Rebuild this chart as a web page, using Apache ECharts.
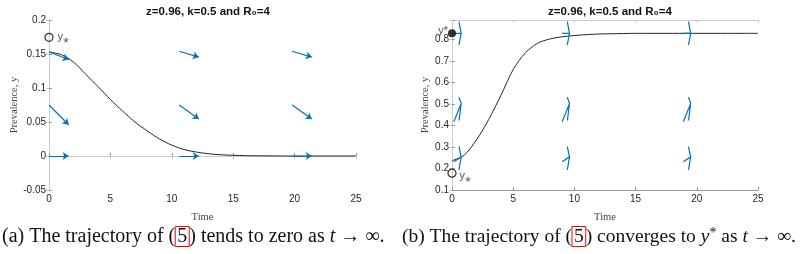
<!DOCTYPE html>
<html>
<head>
<meta charset="utf-8">
<script src="https://cdn.jsdelivr.net/npm/echarts@6/dist/echarts.min.js"></script>
<style>
  html, body { margin: 0; padding: 0; background: #fff; }
  #chart { width: 800px; height: 254px; }
</style>
</head>
<body>
<div id="chart"></div>
<script>
// time samples of both trajectories
const time = [0, 1, 2, 3, 4, 5, 6, 7, 8, 9, 10, 11, 12, 13, 14, 15, 16, 17, 18, 19, 20, 21, 22, 23, 24, 25];
// (a) prevalence dies out
const leftY = [0.153, 0.149, 0.138, 0.120, 0.102, 0.083, 0.066, 0.050, 0.037, 0.025, 0.016, 0.0095, 0.0058, 0.0033, 0.0018, 0.001, 0.0005, 0.0003, 0.0001, 0, 0, 0, 0, 0, 0, 0];
// (b) prevalence goes to y*
const rightY = [0.236, 0.262, 0.333, 0.428, 0.54, 0.66, 0.738, 0.782, 0.802, 0.812, 0.818, 0.822, 0.825, 0.826, 0.827, 0.828, 0.828, 0.828, 0.828, 0.828, 0.828, 0.828, 0.828, 0.828, 0.828, 0.828];

// quiver arrows: [t, y, dt, dy]
const leftArrows = [
  [0, 0.153, 1.6, -0.011], [10.6, 0.154, 1.6, -0.0085], [19.8, 0.154, 1.6, -0.0085],
  [0, 0.075, 1.6, -0.029], [10.6, 0.075, 1.6, -0.0206], [19.8, 0.075, 1.6, -0.0206],
  [0, 0, 1.6, 0], [10.6, 0, 1.6, 0], [19.8, 0, 1.6, 0]
];
const rightArrows = [
  [0.15, 0.828, 0.6, 0], [9.0, 0.828, 0.6, 0], [18.9, 0.828, 0.6, 0],
  [0.15, 0.417, 0.6, 0.0855], [9.0, 0.417, 0.6, 0.0855], [18.9, 0.417, 0.6, 0.0855],
  [0.15, 0.231, 0.6, 0.023], [9.0, 0.231, 0.6, 0.023], [18.9, 0.231, 0.6, 0.023]
];

// marked points
const leftYLow = 0.1745;
const rightYLow = 0.178;
const rightYStar = 0.828;

const xTicks = [0, 5, 10, 15, 20, 25];
const leftYTicks = [-0.05, 0, 0.05, 0.1, 0.15, 0.2];
const rightYTicks = [0.1, 0.2, 0.3, 0.4, 0.5, 0.6, 0.7, 0.8];

const blue = '#0072BD';
const ink = '#262626';
const sans = 'Liberation Sans';
const serif = 'Liberation Serif';

// matlab style arrow head, in data units
function quiverHead(a) {
  const [x, y, u, v] = a;
  const al = 0.3, be = 0.3;
  const tx = x + u, ty = y + v;
  return [
    [x, y], [tx, ty],
    [tx - al * (u + be * v), ty - al * (v - be * u)],
    [tx, ty],
    [tx - al * (u - be * v), ty - al * (v + be * u)]
  ];
}

const chart = echarts.init(document.getElementById('chart'), null, { renderer: 'canvas' });

const grids = [
  { left: 49, top: 20, width: 307, height: 170 },
  { left: 452, top: 20, width: 306, height: 170 }
];

function xAxes(gi) {
  const base = {
    gridIndex: gi, type: 'value', min: xTicks[0], max: xTicks[xTicks.length - 1], interval: 5,
    splitLine: { show: false }
  };
  return [
    Object.assign({}, base, {
      position: 'bottom',
      name: 'Time', nameLocation: 'middle', nameGap: 22,
      nameTextStyle: { fontFamily: serif, fontSize: 10.5, color: '#444' },
      axisLine: { lineStyle: { color: '#999', width: 1 } },
      axisTick: { inside: true, length: 3, lineStyle: { color: '#999' } },
      axisLabel: { fontFamily: sans, fontSize: 10, color: ink, margin: 4 }
    }),
    Object.assign({}, base, {
      position: 'top',
      axisLine: { lineStyle: { color: '#ccc', width: 1 } },
      axisTick: { inside: true, length: 3, lineStyle: { color: '#ccc' } },
      axisLabel: { show: false }
    })
  ];
}

function yAxes(gi, ticks, max, interval, fmt, gap) {
  const base = {
    gridIndex: gi, type: 'value', min: ticks[0], max: max, interval: interval,
    splitLine: { show: false }
  };
  return [
    Object.assign({}, base, {
      position: 'left',
      name: 'Prevalence, y', nameLocation: 'middle', nameGap: gap,
      nameTextStyle: { fontFamily: serif, fontSize: 10.5, color: '#444' },
      axisLine: { lineStyle: { color: '#999', width: 1 } },
      axisTick: { inside: true, length: 3, lineStyle: { color: '#999' } },
      axisLabel: { fontFamily: sans, fontSize: 10, color: ink, margin: 3, formatter: fmt }
    }),
    Object.assign({}, base, {
      position: 'right',
      axisLine: { lineStyle: { color: '#ccc', width: 1 } },
      axisTick: { inside: true, length: 3, lineStyle: { color: '#ccc' } },
      axisLabel: { show: false }
    })
  ];
}

const fmtLeft = v => (Math.abs(v) < 1e-9 ? '0' : String(+v.toFixed(2)));
const fmtRight = v => (Math.abs(v * 10 - Math.round(v * 10)) > 1e-6 ? '' : String(+v.toFixed(1)));

const titleStyle = { fontFamily: sans, fontSize: 11.5, fontWeight: 'bold', color: '#111' };

const option = {
  animation: false,
  backgroundColor: '#fff',
  title: [
    { text: 'z=0.96, k=0.5 and R\u2080=4', left: 203, top: 1, textAlign: 'center', textStyle: titleStyle },
    { text: 'z=0.96, k=0.5 and R\u2080=4', left: 605, top: 1, textAlign: 'center', textStyle: titleStyle }
  ],
  grid: grids,
  xAxis: xAxes(0).concat(xAxes(1)),
  yAxis: yAxes(0, leftYTicks, 0.2, 0.05, fmtLeft, 26).concat(yAxes(1, rightYTicks, 0.89, 0.1, fmtRight, 21)),
  series: [
    {
      type: 'line', xAxisIndex: 0, yAxisIndex: 0, z: 2,
      data: time.map((t, i) => [t, leftY[i]]),
      smooth: 0.3, showSymbol: false,
      lineStyle: { color: ink, width: 1 }
    },
    {
      type: 'lines', coordinateSystem: 'cartesian2d', xAxisIndex: 0, yAxisIndex: 0, z: 3,
      symbol: ['none', 'arrow'], symbolSize: 6,
      lineStyle: { color: blue, width: 1.2, opacity: 1 },
      data: leftArrows.map(a => ({ coords: [[a[0], a[1]], [a[0] + a[2], a[1] + a[3]]] }))
    },
    {
      type: 'scatter', xAxisIndex: 0, yAxisIndex: 0, z: 4,
      data: [[0, leftYLow]], symbol: 'circle', symbolSize: 8,
      itemStyle: { color: 'rgba(0,0,0,0)', borderColor: '#000', borderWidth: 1.2 },
      label: { show: true, position: 'right', distance: 4, formatter: 'y\u204E', fontFamily: sans, fontSize: 11, color: ink }
    },
    {
      type: 'line', xAxisIndex: 2, yAxisIndex: 2, z: 2,
      data: time.map((t, i) => [t, rightY[i]]),
      smooth: 0.3, showSymbol: false,
      lineStyle: { color: ink, width: 1 }
    },
    {
      type: 'lines', coordinateSystem: 'cartesian2d', xAxisIndex: 2, yAxisIndex: 2, z: 3,
      polyline: true, symbol: 'none',
      lineStyle: { color: blue, width: 1.2, opacity: 1 },
      data: rightArrows.map(a => ({ coords: quiverHead(a) }))
    },
    {
      type: 'scatter', xAxisIndex: 2, yAxisIndex: 2, z: 4,
      data: [[0, rightYLow]], symbol: 'circle', symbolSize: 8,
      itemStyle: { color: 'rgba(0,0,0,0)', borderColor: '#000', borderWidth: 1.2 },
      label: { show: true, position: 'right', distance: 3, offset: [0, 3], formatter: 'y\u204E', fontFamily: sans, fontSize: 11, color: ink }
    },
    {
      type: 'scatter', xAxisIndex: 2, yAxisIndex: 2, z: 4,
      data: [[0, rightYStar]], symbol: 'circle', symbolSize: 8,
      itemStyle: { color: '#000' },
      label: { show: true, position: 'left', distance: 0, offset: [0, -2], formatter: 'y*', fontFamily: sans, fontSize: 11, color: ink }
    }
  ],
  graphic: [
    {
      type: 'text', left: 2, top: 226,
      style: {
        text: '(a) The trajectory of ({box|5}) tends to zero as {i|t} \u2192 \u221E.',
        fontFamily: serif, fontSize: 20, fill: '#111',
        rich: {
          box: { fontFamily: serif, fontSize: 20, fill: '#111', borderColor: '#ff0000', borderWidth: 1, padding: [0, 2, 0, 2] },
          i: { fontFamily: serif, fontSize: 20, fontStyle: 'italic', fill: '#111' }
        }
      }
    },
    {
      type: 'text', left: 402, top: 226,
      style: {
        text: '(b) The trajectory of ({box|5}) converges to {i|y}{sup|*} as {i|t} \u2192 \u221E.',
        fontFamily: serif, fontSize: 19.5, fill: '#111',
        rich: {
          box: { fontFamily: serif, fontSize: 19.5, fill: '#111', borderColor: '#ff0000', borderWidth: 1, padding: [0, 2, 0, 2] },
          i: { fontFamily: serif, fontSize: 19.5, fontStyle: 'italic', fill: '#111' },
          sup: { fontFamily: serif, fontSize: 14, fill: '#111', verticalAlign: 'top' }
        }
      }
    }
  ]
};

chart.setOption(option);
</script>
</body>
</html>
